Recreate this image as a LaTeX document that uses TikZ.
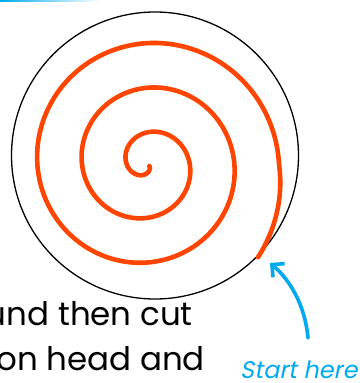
\documentclass[tikz,border=0pt]{standalone}
\usepackage{fontspec}
\setmainfont{Poppins}
\newfontfamily\bodyfont{Poppins}
\newfontfamily\startfont[FakeSlant=0.2]{Poppins}
\usetikzlibrary{arrows.meta}
\definecolor{spiralred}{RGB}{255,69,0}
\definecolor{skyblue}{RGB}{0,170,240}
\begin{document}
\begin{tikzpicture}[x=1pt,y=-1pt,
  spiralline/.style={draw=spiralred,line width=4.6pt,line cap=round,line join=round},
  rim/.style={draw=black,line width=1.3pt},
  bodytext/.style={font=\bodyfont\fontsize{32.5}{32.5}\selectfont,text=black,inner sep=0pt},
  hinttext/.style={font=\startfont\fontsize{24}{24}\selectfont,text=skyblue,inner sep=0pt},
  hintarrow/.style={draw=skyblue,line width=3.6pt,line cap=round,line join=round,
    -{Straight Barb[length=9pt,width=18pt,line width=3.6pt]}}]
\useasboundingbox (0,0) rectangle (359,383);
\clip (0,0) rectangle (359,383);
\fill[left color=skyblue,right color=white] (0,0) rectangle (100,1.6);
\draw[rim] (155,155.5) circle[radius=143.5];
\draw[spiralline] plot[domain=-40:1040,samples=500,variable=\t]
  ({147+(132-0.124*\t+0.2*max(0,-\t))*cos(\t)},{164-(132-0.124*\t+0.2*max(0,-\t))*sin(\t)});
\node[bodytext,anchor=base east] (line1) at (193,325) {und then cut};
\node[bodytext,anchor=base east] (line2) at (205,370) {on head and};
\node[hinttext,anchor=base west] (hint) at (240,378) {Start here};
\coordinate (arrowstart) at (308,338);
\coordinate (arrowtip) at (270,263);
\draw[hintarrow] (arrowstart) .. controls (305,305) and (290,280) .. (arrowtip);
\end{tikzpicture}
\end{document}
